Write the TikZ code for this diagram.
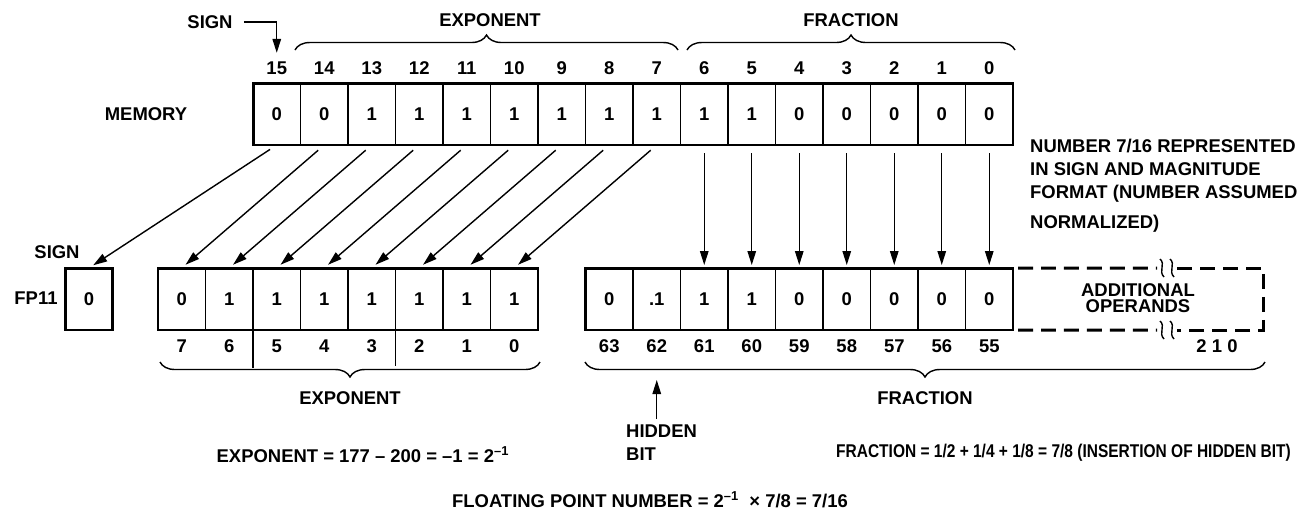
\documentclass[tikz,border=0pt]{standalone}
\usepackage{fontspec}
\usepackage{graphicx}
\setmainfont{Liberation Sans}
\usetikzlibrary{arrows.meta,decorations.pathreplacing}

\begin{document}
\begin{tikzpicture}[x=0.02cm,y=-0.02cm,
  every node/.style={font=\bfseries\fontsize{10.5}{13}\selectfont},
  cell/.style={draw,line width=1pt,minimum width=0.95cm,minimum height=1.24cm,inner sep=0pt,outer sep=0pt},
  outer/.style={line width=1.7pt},
  arr/.style={line width=0.8pt,-{Triangle[length=0.28cm,width=0.17cm]}},
  brc/.style={line width=0.8pt,decorate,decoration={brace,amplitude=0.3cm}}]
  \useasboundingbox (0,0) rectangle (1312,529);

  % Memory word
  \node (memL) at (146,114) {MEMORY};
  \foreach \b/\v [count=\i from 0] in {15/0,14/0,13/1,12/1,11/1,10/1,9/1,8/1,7/1,6/1,5/1,4/0,3/0,2/0,1/0,0/0} {
    \node[cell] (m\b) at (276.75+47.5*\i,114) {\v};
    \node (mn\b) at (276.75+47.5*\i,68) {\b};
  }
  \draw[outer] (m15.north west) rectangle (m0.south east);

  \node (sgnT) at (210,22) {SIGN};
  \draw[arr,shorten <=0.1cm,shorten >=0.05cm] (sgnT.east) -| (mn15.north);

  \draw[brc] (295,50) -- (678,50);
  \node (expT) at (490,20) {EXPONENT};
  \draw[brc] (687,50) -- (1015,50);
  \node (fracT) at (851,20) {FRACTION};

  \node[align=left,anchor=north west] (note) at (1024,133) {NUMBER 7/16 REPRESENTED\\IN SIGN AND MAGNITUDE\\FORMAT (NUMBER ASSUMED\\[4pt]NORMALIZED)};

  % FP11 registers
  \node (sgnB) at (57,252) {SIGN};
  \node (fp) at (36,298) {FP11};
  \node[cell] (s) at (89,299) {0};
  \draw[outer] (s.north west) rectangle (s.south east);

  \foreach \b/\v [count=\i from 0] in {7/0,6/1,5/1,4/1,3/1,2/1,1/1,0/1} {
    \node[cell] (e\b) at (181.75+47.5*\i,299) {\v};
    \node (en\b) at (181.75+47.5*\i,346) {\b};
  }
  \draw[outer] (e7.north west) rectangle (e0.south east);
  \draw[line width=1pt] (e6.south east) -- ++(0,38);
  \draw[line width=1pt] (e3.south east) -- ++(0,36);

  \foreach \b/\v [count=\i from 0] in {63/0,62/.1,61/1,60/1,59/0,58/0,57/0,56/0,55/0} {
    \node[cell] (f\b) at (609.25+47.5*\i,299) {\v};
    \node (fn\b) at (609.25+47.5*\i,346) {\b};
  }
  \draw[outer] (f63.north west) rectangle (f55.south east);

  % additional operands
  \draw[outer,dash pattern=on 0.3cm off 0.16cm,dash phase=-0.1cm] (f55.north east) -- (1157,268);
  \draw[outer,dash pattern=on 0.3cm off 0.16cm] (1177,268) -- (1263,268) -- (1263,330) -- (1177,330);
  \draw[outer,dash pattern=on 0.3cm off 0.16cm,dash phase=-0.1cm] (f55.south east) -- (1157,330);
  \foreach \yy in {268,330}
    \foreach \xx in {1162,1172}
      \draw[line width=0.8pt] (\xx-2,\yy-9) .. controls (\xx+4,\yy-4) and (\xx-4,\yy+3) .. (\xx+2,\yy+9);
  \node[align=center] (ao) at (1138,298) {ADDITIONAL\\[-4pt]OPERANDS};
  \node (aon) at (1217,346) {2 1 0};

  % bit moves
  \draw[arr,shorten <=0.16cm,shorten >=0.1cm] (m15.south) -- (s.north);
  \foreach \b/\t in {14/7,13/6,12/5,11/4,10/3,9/2,8/1,7/0}
    \draw[arr,shorten <=0.16cm,shorten >=0.1cm] (m\b.south) -- (e\t.north);
  \foreach \b/\t in {6/61,5/60,4/59,3/58,2/57,1/56,0/55}
    \draw[arr,shorten <=0.16cm,shorten >=0.06cm] (m\b.south) -- (f\t.north);

  \draw[brc] (540,362) -- (160,362);
  \node (expB) at (350,398) {EXPONENT};
  \draw[brc] (1265,362) -- (585,362);
  \node (fracB) at (925,398) {FRACTION};

  \node[align=left,anchor=north west] (hid) at (620,419) {HIDDEN\\BIT};
  \coordinate (hbtip) at (656.75,380);
  \draw[arr] (hid.north -| hbtip) -- (hbtip);

  \node (expEq) at (363,455) {EXPONENT = 177 -- 200 = --1 = 2\textsuperscript{--1}};
  \node[anchor=west] (fracEq) at (830,453) {\scalebox{0.84}[1]{FRACTION = 1/2 + 1/4 + 1/8 = 7/8 (INSERTION OF HIDDEN BIT)}};
  \node (fpEq) at (650,500) {FLOATING POINT NUMBER = 2\textsuperscript{--1} \ × 7/8 = 7/16};
\end{tikzpicture}
\end{document}
